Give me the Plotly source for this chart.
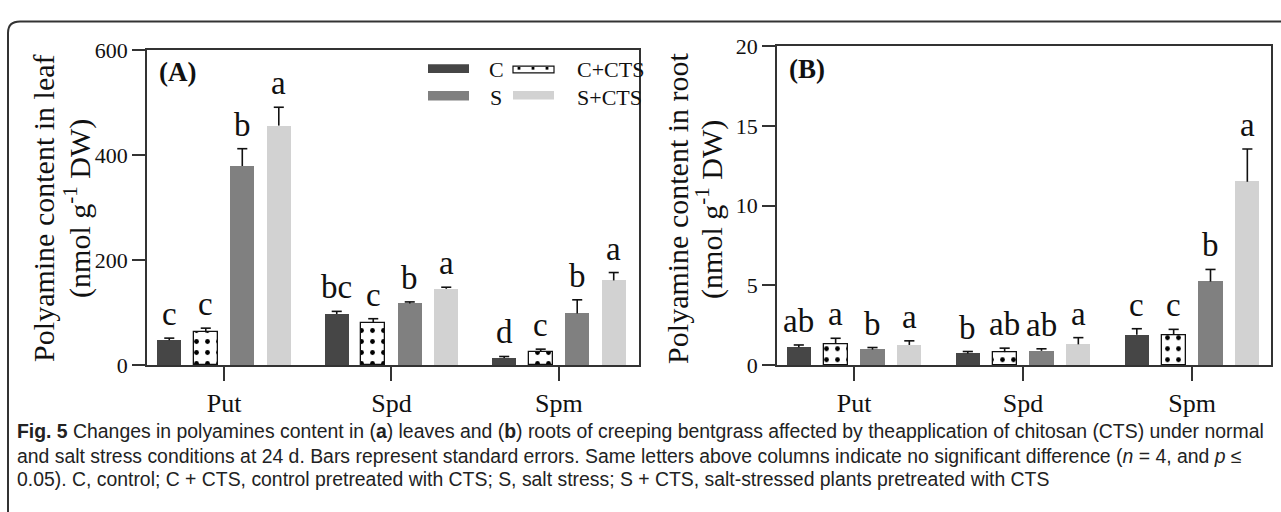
import plotly.graph_objects as go

W, H = 1281, 512

# ---------------- data ----------------
categories = ["Put", "Spd", "Spm"]
treatments = ["C", "C+CTS", "S", "S+CTS"]

leaf_C = [47, 97, 13]
leaf_CCTS = [62, 80, 25]
leaf_S = [379, 117, 98]
leaf_SCTS = [456, 145, 161]
leaf_C_err = [4, 5, 3]
leaf_CCTS_err = [8, 8, 5]
leaf_S_err = [33, 3, 26]
leaf_SCTS_err = [35, 3, 15]
leaf_C_sig = ["c", "bc", "d"]
leaf_CCTS_sig = ["c", "c", "c"]
leaf_S_sig = ["b", "b", "b"]
leaf_SCTS_sig = ["a", "a", "a"]

root_C = [1.11, 0.72, 1.89]
root_CCTS = [1.31, 0.80, 1.89]
root_S = [0.96, 0.88, 5.23]
root_SCTS = [1.25, 1.29, 11.50]
root_C_err = [0.14, 0.12, 0.38]
root_CCTS_err = [0.36, 0.25, 0.34]
root_S_err = [0.13, 0.13, 0.76]
root_SCTS_err = [0.26, 0.42, 2.05]
root_C_sig = ["ab", "b", "c"]
root_CCTS_sig = ["a", "ab", "c"]
root_S_sig = ["b", "ab", "b"]
root_SCTS_sig = ["a", "a", "a"]

leaf_ticks = [0, 200, 400, 600]
root_ticks = [0, 5, 10, 15, 20]

# ---------------- style ----------------
SERIF = "Liberation Serif, Times New Roman, serif"
SANS = "Liberation Sans, Arial, sans-serif"
AX = "#333333"
colors = {"C": "#464646", "C+CTS": "white", "S": "#808080", "S+CTS": "#d2d2d2"}
PITCH = 0.218
BW = 0.143
CAP = 0.03


def px(x):
    return x / W


def py(y):
    return 1 - y / H


fig = go.Figure()
annotations = []
shapes = []

panels = [
    dict(xa="x", ya="y", vals=[leaf_C, leaf_CCTS, leaf_S, leaf_SCTS],
         errs=[leaf_C_err, leaf_CCTS_err, leaf_S_err, leaf_SCTS_err],
         sigs=[leaf_C_sig, leaf_CCTS_sig, leaf_S_sig, leaf_SCTS_sig]),
    dict(xa="x2", ya="y2", vals=[root_C, root_CCTS, root_S, root_SCTS],
         errs=[root_C_err, root_CCTS_err, root_S_err, root_SCTS_err],
         sigs=[root_C_sig, root_CCTS_sig, root_S_sig, root_SCTS_sig]),
]

for p in panels:
    ex, ey = [], []
    for j, t in enumerate(treatments):
        xs = [i + (j - 1.5) * PITCH for i in range(len(categories))]
        marker = dict(color=colors[t], line=dict(width=0))
        if t == "C+CTS":
            marker = dict(color="white", line=dict(color="#111111", width=1.3),
                          pattern=dict(shape=".", fgcolor="#000000", bgcolor="white",
                                       fgopacity=1, size=11, solidity=0.15))
        fig.add_trace(go.Bar(x=xs, y=p["vals"][j], width=BW, marker=marker,
                             xaxis=p["xa"], yaxis=p["ya"], showlegend=False,
                             name=t))
        for xc, v, e, s in zip(xs, p["vals"][j], p["errs"][j], p["sigs"][j]):
            ex += [xc, xc, None, xc - CAP, xc + CAP, None]
            ey += [v, v + e, None, v + e, v + e, None]
            annotations.append(dict(x=xc, y=v + e, xref=p["xa"], yref=p["ya"],
                                    text=s, showarrow=False, yanchor="bottom",
                                    yshift=4, font=dict(family=SERIF, size=33, color="#111")))
    fig.add_trace(go.Scatter(x=ex, y=ey, mode="lines", xaxis=p["xa"], yaxis=p["ya"],
                             line=dict(color="#111111", width=1.6), showlegend=False,
                             hoverinfo="skip"))

axis_common = dict(showline=True, linecolor=AX, linewidth=1.5, mirror=True,
                   showgrid=False, zeroline=False, ticks="outside", tickcolor=AX,
                   tickwidth=1.5)

fig.update_layout(
    width=W, height=H, margin=dict(l=0, r=0, t=0, b=0),
    paper_bgcolor="white", plot_bgcolor="white", bargap=0, barmode="overlay",
    xaxis=dict(domain=[px(147), px(639)], range=[-0.46, 2.478], tickvals=[0, 1, 2],
               ticktext=categories, ticklen=14, anchor="y",
               tickfont=dict(family=SERIF, size=26, color="#111"), **axis_common),
    yaxis=dict(domain=[py(371), py(40)], range=[0, 600], tickvals=leaf_ticks,
               ticklen=13, anchor="x",
               tickfont=dict(family=SERIF, size=22, color="#111"), **axis_common),
    xaxis2=dict(domain=[px(777), px(1271)], range=[-0.456, 2.467], tickvals=[0, 1, 2],
                ticktext=categories, ticklen=14, anchor="y2",
                tickfont=dict(family=SERIF, size=26, color="#111"), **axis_common),
    yaxis2=dict(domain=[py(371), py(36)], range=[0, 20], tickvals=root_ticks,
                ticklen=13, anchor="x2",
                tickfont=dict(family=SERIF, size=22, color="#111"), **axis_common),
)

# y-axis titles
for x1, x2, organ in [(44, 78, "leaf"), (678, 710, "root")]:
    annotations.append(dict(x=px(x1), y=py(207), xref="paper", yref="paper",
                            text="Polyamine content in " + organ, textangle=-90,
                            showarrow=False, xanchor="center", yanchor="middle",
                            font=dict(family=SERIF, size=30, color="#111")))
    annotations.append(dict(x=px(x2), y=py(207), xref="paper", yref="paper",
                            text="(nmol g<sup>-1</sup> DW)", textangle=-90,
                            showarrow=False, xanchor="center", yanchor="middle",
                            font=dict(family=SERIF, size=30, color="#111")))

# panel labels
for x, y, lab in [(157, 63, "(A)"), (787, 60, "(B)")]:
    annotations.append(dict(x=px(x), y=py(y), xref="paper", yref="paper",
                            text="<b>" + lab + "</b>", showarrow=False,
                            xanchor="left", yanchor="middle",
                            font=dict(family=SERIF, size=27, color="#111")))

# legend (manual)
legend_items = [
    ("C", 428, 55, 64, 496, 60),
    ("C+CTS", 513, 57, 64, 575, 60),
    ("S", 428, 83, 93, 496, 90),
    ("S+CTS", 513, 83, 92, 575, 90),
]
for t, x0, y0, y1, tx, ty in legend_items:
    if t == "C+CTS":
        shapes.append(dict(type="rect", xref="paper", yref="paper",
                           x0=px(x0), x1=px(x0 + 41), y0=py(y1), y1=py(y0),
                           fillcolor="white", line=dict(color="#111", width=1.2)))
        for dx in (6, 20, 34):
            shapes.append(dict(type="rect", xref="paper", yref="paper",
                               x0=px(x0 + dx - 1.4), x1=px(x0 + dx + 1.4),
                               y0=py(y0 + 3.6), y1=py(y0 + 0.8),
                               fillcolor="#000", line=dict(width=0)))
    else:
        shapes.append(dict(type="rect", xref="paper", yref="paper",
                           x0=px(x0), x1=px(x0 + 41), y0=py(y1), y1=py(y0),
                           fillcolor=colors[t], line=dict(width=0)))
    annotations.append(dict(x=px(tx), y=py(ty), xref="paper", yref="paper",
                            text=t, showarrow=False,
                            xanchor="left" if len(t) > 1 else "center", yanchor="middle",
                            font=dict(family=SERIF, size=22, color="#111")))

# outer frame with rounded top-left corner
shapes.append(dict(type="path", xref="paper", yref="paper",
                   path=f"M {px(8)},{py(560)} L {px(8)},{py(22)} Q {px(8)},{py(10)} {px(20)},{py(10)} L {px(1300)},{py(10)}",
                   line=dict(color="#333", width=2)))

# caption
caption_lines = [
    "<b>Fig. 5</b> Changes in polyamines content in (<b>a</b>) leaves and (<b>b</b>) roots of creeping bentgrass affected by theapplication of chitosan (CTS) under normal",
    "and salt stress conditions at 24 d. Bars represent standard errors. Same letters above columns indicate no significant difference (<i>n</i> = 4, and <i>p</i> ≤",
    "0.05). C, control; C + CTS, control pretreated with CTS; S, salt stress; S + CTS, salt-stressed plants pretreated with CTS",
]
for yc, line in zip([441, 467, 491], caption_lines):
    annotations.append(dict(x=px(15), y=py(yc), xref="paper", yref="paper",
                            text=line, showarrow=False, xanchor="left", yanchor="middle",
                            font=dict(family=SANS, size=19.4, color="#222")))

fig.update_layout(annotations=annotations, shapes=shapes)
fig.write_html("out.html", config={"displayModeBar": False},
               post_script="document.body.style.margin='0px';")
